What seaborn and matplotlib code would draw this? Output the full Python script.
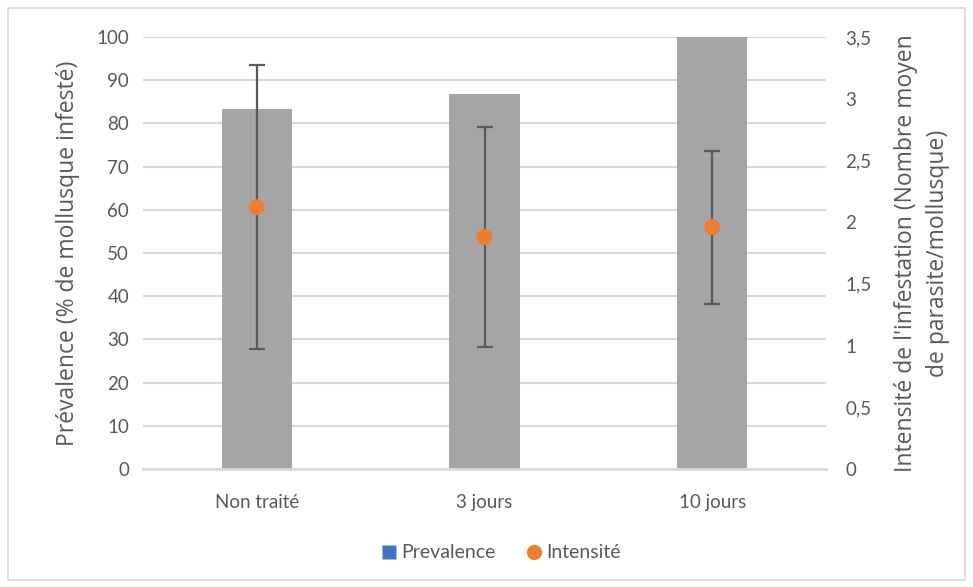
import matplotlib
matplotlib.use("Agg")
import matplotlib.pyplot as plt
from matplotlib.patches import Rectangle
from matplotlib.lines import Line2D
import seaborn as sns
import pandas as pd

categories = ["Non traité", "3 jours", "10 jours"]
prevalence = [83.3, 86.7, 100.0]
intensite = [2.12, 1.88, 1.96]
intensite_err = [1.15, 0.89, 0.62]
left_ticks = [0, 10, 20, 30, 40, 50, 60, 70, 80, 90, 100]
right_ticks = [0, 0.5, 1, 1.5, 2, 2.5, 3, 3.5]
right_tick_labels = ["0", "0,5", "1", "1,5", "2", "2,5", "3", "3,5"]

df = pd.DataFrame({"cat": categories, "prev": prevalence,
                   "int": intensite, "err": intensite_err})

sns.set_theme(style="white")
plt.rcParams["font.family"] = ["Lato", "DejaVu Sans"]

txt = "#595959"
grid = "#D9D9D9"

fig = plt.figure(figsize=(9.73, 5.87), dpi=100)
ax = fig.add_axes([143/973, 1-469/587, (826-143)/973, (469-37)/587])

sns.barplot(data=df, x="cat", y="prev", color="#A5A5A5", saturation=1,
            width=0.31, ax=ax, zorder=2, edgecolor="none")
ax.set_ylim(0, 100)
ax.set_xlim(-0.5, 2.5)
ax.set_yticks(left_ticks)
ax.yaxis.grid(True, color=grid, linewidth=1.5, zorder=0)
ax.set_axisbelow(True)
for s in ["top", "right", "left"]:
    ax.spines[s].set_visible(False)
ax.spines["bottom"].set_color(grid)
ax.spines["bottom"].set_linewidth(2)
ax.tick_params(axis="both", length=0, labelsize=13.5, colors=txt)
ax.tick_params(axis="y", pad=10)
ax.tick_params(axis="x", pad=18)
ax.set_xlabel("")
ax.set_ylabel("Prévalence (% de mollusque infesté)", fontsize=16.5,
              color=txt, family=["Open Sans", "DejaVu Sans"], labelpad=12)

ax2 = ax.twinx()
ax2.errorbar(range(len(categories)), df["int"], yerr=df["err"], fmt="none",
             ecolor="#5A5A5A", elinewidth=1.6, capsize=6, capthick=1.6, zorder=3)
sns.scatterplot(data=df, x="cat", y="int", color="#ED7D31", s=130,
                edgecolor="none", ax=ax2, zorder=4, legend=False)
ax2.set_ylim(0, 3.5)
ax2.set_xlim(-0.5, 2.5)
ax2.set_yticks(right_ticks)
ax2.set_yticklabels(right_tick_labels)
ax2.grid(False)
for s in ["top", "right", "left", "bottom"]:
    ax2.spines[s].set_visible(False)
ax2.tick_params(axis="y", length=0, labelsize=13.5, colors=txt, pad=14)
ax2.set_xlabel("")
ax2.set_ylabel("Intensité de l'infestation (Nombre moyen\nde parasite/mollusque)",
               fontsize=16.5, color=txt, family=["Open Sans", "DejaVu Sans"],
               labelpad=16, linespacing=1.45)

handles = [Line2D([0], [0], marker="s", linestyle="none", markersize=10,
                  markerfacecolor="#4472C4", markeredgecolor="none"),
           Line2D([0], [0], marker="o", linestyle="none", markersize=11,
                  markerfacecolor="#ED7D31", markeredgecolor="none")]
leg = fig.legend(handles, ["Prevalence", "Intensité"], loc="center",
                 bbox_to_anchor=(500/973, 1-553/587), ncol=2, frameon=False,
                 fontsize=14, handletextpad=0.1, columnspacing=1.5,
                 handlelength=1.0)
for t in leg.get_texts():
    t.set_color(txt)

fig.patches.append(Rectangle((8/973, 1-580/587), (965-8)/973, (580-8)/587,
                             transform=fig.transFigure, fill=False,
                             edgecolor=grid, linewidth=1.2))

fig.savefig("out.png", dpi=100)
